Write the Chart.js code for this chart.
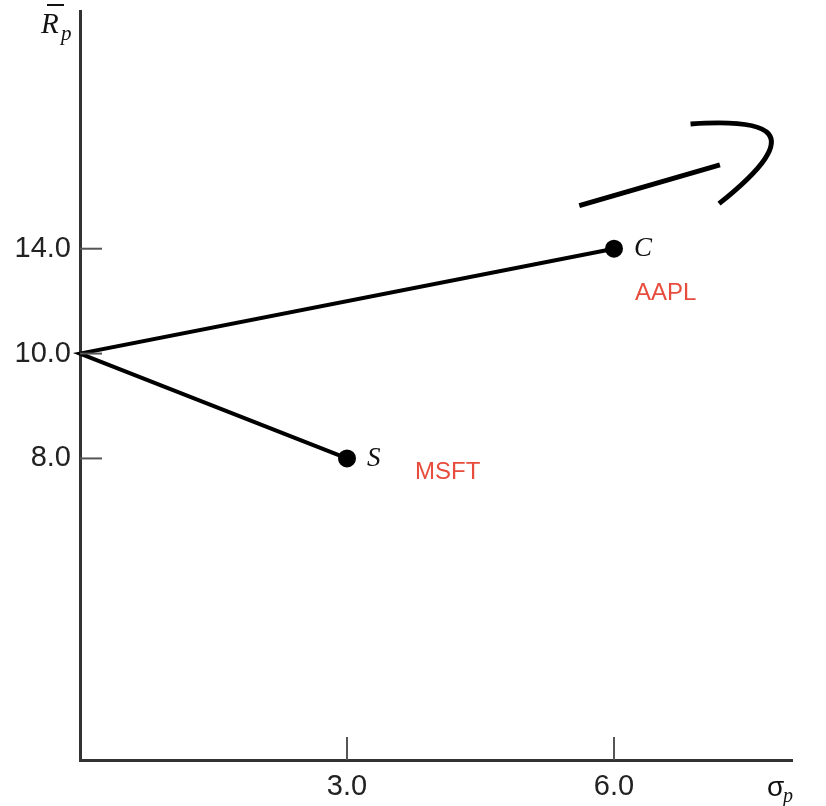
<!DOCTYPE html>
<html lang="en">
<head>
    <meta charset="UTF-8">
    <title>Portfolio Risk and Return</title>
    <script src="https://cdn.jsdelivr.net/npm/chart.js"></script>
    <style>
        body {
            margin: 0;
            background-color: white;
        }
        .container {
            width: 826px;
            height: 806px;
        }
    </style>
</head>
<body>
    <div class="container">
        <canvas id="frontierChart" width="826" height="806"></canvas>
    </div>

    <script>
        // Portfolio data
        const portfolios = ['S', 'C'];
        const tickers = ['MSFT', 'AAPL'];
        const sigma = [3.0, 6.0];          // standard deviation
        const meanReturn = [8.0, 14.0];    // expected return
        const startSigma = 0.0;
        const startReturn = 10.0;

        const xTicks = [3.0, 6.0];
        const yTicks = [8.0, 10.0, 14.0];

        // the figure spaces the return ticks evenly, not to scale
        const tier = v => yTicks.indexOf(v);

        // hand drawn arrow in the corner, in axis units (sigma, return tier)
        const arrowLine = [[5.61, 2.41], [7.19, 2.80]];
        const arrowCurve = [[6.86, 3.19], [7.72, 3.24], [8.23, 3.14], [7.18, 2.43]];

        const lineData = [
            { x: sigma[0], y: tier(meanReturn[0]) },
            { x: startSigma, y: tier(startReturn) },
            { x: sigma[1], y: tier(meanReturn[1]) }
        ];

        const tickFont = { family: 'Liberation Sans, Arial, sans-serif', size: 29 };

        // inward tick marks, point labels, axis titles and the arrow
        const decorations = {
            id: 'decorations',
            afterDraw(chart) {
                const { ctx, chartArea, scales } = chart;
                const x = scales.x, y = scales.y;
                ctx.save();

                ctx.strokeStyle = '#555';
                ctx.lineWidth = 2;
                xTicks.forEach(v => {
                    const px = x.getPixelForValue(v);
                    ctx.beginPath();
                    ctx.moveTo(px, chartArea.bottom);
                    ctx.lineTo(px, chartArea.bottom - 23);
                    ctx.stroke();
                });
                yTicks.forEach((v, i) => {
                    const py = y.getPixelForValue(i);
                    ctx.beginPath();
                    ctx.moveTo(chartArea.left, py);
                    ctx.lineTo(chartArea.left + 22, py);
                    ctx.stroke();
                });

                // point labels
                const meta = chart.getDatasetMeta(0);
                const pts = [meta.data[0], meta.data[2]];
                ctx.textBaseline = 'middle';
                ctx.textAlign = 'left';
                pts.forEach((p, i) => {
                    ctx.fillStyle = '#111';
                    ctx.font = 'italic 27px "Liberation Serif", "Times New Roman", serif';
                    ctx.fillText(portfolios[i], p.x + 20, p.y);
                });
                ctx.fillStyle = '#e74c3c';
                ctx.font = '24px "Liberation Sans", Arial, sans-serif';
                ctx.fillText(tickers[0], pts[0].x + 68, pts[0].y + 14);
                ctx.fillText(tickers[1], pts[1].x + 21, pts[1].y + 45);

                // axis titles
                ctx.fillStyle = '#111';
                ctx.textBaseline = 'alphabetic';
                ctx.font = 'italic 29px "Liberation Serif", "Times New Roman", serif';
                ctx.fillText('R', 41, 33);
                ctx.font = 'italic 21px "Liberation Serif", "Times New Roman", serif';
                ctx.fillText('p', 61, 40);
                ctx.lineWidth = 2;
                ctx.strokeStyle = '#111';
                ctx.beginPath();
                ctx.moveTo(47, 5);
                ctx.lineTo(64, 5);
                ctx.stroke();

                ctx.font = '28px "Liberation Sans", Arial, sans-serif';
                ctx.fillText('σ', 767, 796);
                ctx.font = 'italic 20px "Liberation Serif", "Times New Roman", serif';
                ctx.fillText('p', 783, 802);

                // arrow scribble
                const toPx = ([a, b]) => [x.getPixelForValue(a), y.getPixelForValue(b)];
                ctx.strokeStyle = '#000';
                ctx.lineWidth = 5;
                ctx.lineCap = 'butt';
                const l0 = toPx(arrowLine[0]), l1 = toPx(arrowLine[1]);
                ctx.beginPath();
                ctx.moveTo(l0[0], l0[1]);
                ctx.lineTo(l1[0], l1[1]);
                ctx.stroke();
                const c = arrowCurve.map(toPx);
                ctx.beginPath();
                ctx.moveTo(c[0][0], c[0][1]);
                ctx.bezierCurveTo(c[1][0], c[1][1], c[2][0], c[2][1], c[3][0], c[3][1]);
                ctx.stroke();

                ctx.restore();
            }
        };

        const ctx = document.getElementById('frontierChart').getContext('2d');
        const frontierChart = new Chart(ctx, {
            type: 'scatter',
            data: {
                datasets: [{
                    data: lineData,
                    showLine: true,
                    borderColor: '#000',
                    borderWidth: 4,
                    borderJoinStyle: 'miter',
                    backgroundColor: '#000',
                    pointRadius: [7, 0, 7],
                    pointHoverRadius: [7, 0, 7],
                    clip: false
                }]
            },
            options: {
                responsive: false,
                animation: false,
                events: [],
                layout: { padding: { left: 0, right: 34, top: 3, bottom: 0 } },
                plugins: {
                    legend: { display: false },
                    tooltip: { enabled: false }
                },
                scales: {
                    x: {
                        type: 'linear',
                        min: 0,
                        max: 8,
                        grid: { display: false, drawTicks: false },
                        border: { color: '#333', width: 3 },
                        afterFit: s => {
                            s.height = 46;
                            s.paddingLeft = 0;
                            s.paddingRight = 0;
                        },
                        afterBuildTicks: s => { s.ticks = xTicks.map(v => ({ value: v })); },
                        ticks: {
                            font: tickFont,
                            color: '#222',
                            padding: 10,
                            callback: v => v.toFixed(1)
                        }
                    },
                    y: {
                        type: 'linear',
                        min: -2.876,
                        max: 4.267,
                        grid: { display: false, drawTicks: false },
                        border: { color: '#333', width: 3 },
                        afterFit: s => {
                            s.width = 80;
                            s.paddingTop = 0;
                            s.paddingBottom = 0;
                        },
                        afterBuildTicks: s => { s.ticks = yTicks.map((v, i) => ({ value: i })); },
                        ticks: {
                            font: tickFont,
                            color: '#222',
                            padding: 9,
                            callback: v => yTicks[v].toFixed(1)
                        }
                    }
                }
            },
            plugins: [decorations]
        });
    </script>
</body>
</html>
